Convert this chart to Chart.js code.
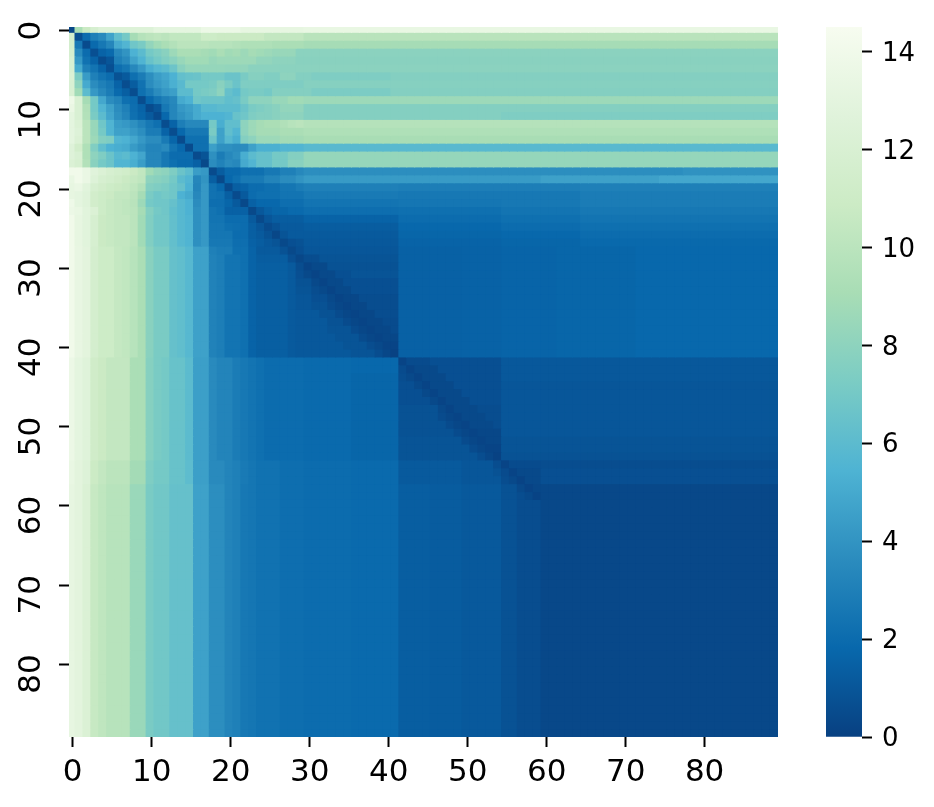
<!DOCTYPE html>
<html>
<head>
<meta charset="utf-8">
<script src="https://cdn.jsdelivr.net/npm/chart.js@4"></script>
<style>
body { margin: 0; background: #fff; }
canvas { position: absolute; left: 0; top: 0; }
</style>
</head>
<body>
<canvas id="heat" width="934" height="807"></canvas>
<canvas id="bar" width="934" height="807"></canvas>
<script>
// tick labels
var xTicks = [0, 10, 20, 30, 40, 50, 60, 70, 80];
var yTicks = [0, 10, 20, 30, 40, 50, 60, 70, 80];
var barTicks = [0, 2, 4, 6, 8, 10, 12, 14];
var vMax = 14.5;
// GnBu reversed
var ramp = ['#084081', '#0868ac', '#2b8cbe', '#4eb3d3', '#7bccc4', '#a8ddb5', '#ccebc5', '#e0f3db', '#f7fcf0'];

// left parts of the rows below the bright band, read as [first column, value, ...]
var left24 = [0,14, 1,13.2, 2,12.8, 3,11.8, 4,10.8, 5,10.6, 6,10.4, 8,10, 9,8.8, 10,7.5, 11,6.9, 13,6.3, 14,5.8, 15,5.5, 16,3.8, 17,4.2];
var left30 = [0,14, 1,13.3, 2,12.9, 3,11.6, 4,11, 6,10.5, 7,10.3, 8,9.8, 9,9.2, 10,7.8, 11,7.2, 13,6.4, 14,6.2, 15,5.8, 16,4.6];
var mid30 = [18,3.1, 19,2.9, 20,2.4, 22,2.2, 23,1.6, 24,1.4, 28,1.2];
var right30 = [42,1.5, 50,1.55, 55,1.65, 62,1.7, 72,1.8];
var left42 = [0,13.6, 1,13, 2,12.6, 3,11.2, 4,10.8, 5,10.4, 8,9.2, 10,7.7, 11,7.2, 12,7, 13,6.5, 15,6, 16,4.5, 18,3.5, 19,3.2, 21,2.8, 22,2.6, 23,2.4, 24,2.2, 25,2, 30,1.9];
var left55 = [0,13.4, 1,12.9, 2,12.4, 3,10.9, 4,10.4, 5,10, 8,8.9, 10,7.4, 11,7, 13,6.5, 15,6.1, 16,4.5, 18,3.5, 20,3.2, 21,3, 22,2.7, 23,2.5, 24,2.3, 27,2.1, 30,2];
var left60 = [0,13.2, 1,12.9, 2,12.2, 3,10.6, 4,10.2, 5,9.8, 8,8.5, 10,7.2, 11,6.9, 13,6.4, 16,4.6, 18,3.7, 20,3.2, 21,3, 22,2.6, 23,2.5, 24,2.3, 27,2.1, 30,2, 36,1.9];
var farBottom = [42,1.35, 46,1.25, 50,1.15, 55,0.8, 57,0.6, 60,0.35];

// one row of the heatmap per entry, written as [first column, value, ...]
var row00 = [0,0.3, 1,9.2, 2,10.8, 3,11.8, 4,12.4, 11,13, 17,13.6, 22,13.2, 30,13.4];
var row01 = [0,11.5, 1,0.7, 2,2, 3,3, 4,3.5, 5,4.7, 6,6.2, 7,7, 8,9, 9,9.7, 10,10, 11,10.2, 12,10, 13,10.3, 17,11, 19,10.8, 25,10.4, 30,9.9];
var row02 = [0,11.5, 1,2.6, 2,0.5, 3,1.9, 4,2.6, 5,3.3, 6,5, 7,5.6, 8,6.8, 9,7.2, 10,8.2, 11,8.8, 12,9.2, 13,9.6, 14,10, 18,9.8, 21,9.6, 22,9.4, 26,9.2, 30,9];
var row03 = [0,11.7, 1,3.5, 2,2, 3,0.7, 4,1.6, 5,1.9, 6,3.4, 7,4, 8,5.4, 9,6, 10,7, 11,7.4, 12,7.8, 13,8.6, 14,9.2, 17,9, 18,8.8, 19,9.2, 20,8.8, 21,9, 22,8.6, 23,9, 24,8.8, 25,8.6, 26,8.4, 29,7.9];
var row04 = [0,12, 1,4.2, 2,2.3, 3,1.6, 4,0.5, 5,1, 6,3, 7,3.5, 8,4.7, 9,5.5, 10,6.5, 11,7, 12,7.5, 13,7.9, 14,8.4, 15,8.8, 18,8.4, 19,8.6, 24,8.2, 26,8, 29,7.8];
var row05 = [0,12, 1,5, 2,3, 3,2.4, 4,1.6, 5,0.7, 6,2.1, 7,2.5, 8,3.4, 9,4.2, 10,5.2, 11,5.7, 12,6, 13,6.7, 14,7.8, 15,8.3, 20,8.2, 23,7.9];
var row06 = [0,12.2, 1,7.3, 2,4.3, 3,3, 4,2.4, 5,2, 6,0.8, 7,1.2, 8,2.2, 9,2.8, 10,3.7, 11,4.4, 12,4.8, 13,5.4, 14,6.3, 15,6.5, 16,6.6, 17,7, 20,6.6, 22,7.2, 23,7.7, 25,7.5, 27,8, 29,7.6, 31,7.4, 41,7.6];
var row07 = [0,12, 1,8, 2,5, 3,3.6, 4,3, 5,2.6, 6,1.6, 7,0.6, 8,1.3, 9,2.3, 10,3.6, 11,4.2, 12,4.6, 13,5.3, 14,5.9, 15,7, 18,7.2, 19,7.8, 20,7.2, 21,6.6, 22,7.4, 30,7.7];
var row08 = [0,12, 1,8.8, 2,6, 3,4.2, 4,3.4, 5,2.8, 6,1.9, 7,1.4, 8,0.6, 9,2.2, 10,2.8, 11,3.6, 12,4.2, 13,4.5, 14,6, 16,7, 17,7.2, 18,7.4, 19,8, 20,6.4, 21,6, 22,7, 23,7.2, 25,7, 26,7.6, 31,7.3, 41,7.6];
var row09 = [0,13.8, 1,12, 2,9, 3,7, 4,4.9, 5,3.6, 6,3.2, 7,2.2, 8,2, 9,0.6, 10,1.8, 11,2.5, 12,3, 13,3.4, 14,5, 15,5.4, 16,6.8, 17,6.6, 20,6.2, 21,6.4, 22,7.2, 23,8, 26,8.4, 28,8.8, 30,8.6];
var row10 = [0,13.5, 1,12, 2,9.5, 3,7, 4,5.6, 5,4.6, 6,3.6, 7,3, 8,2.1, 9,1.6, 10,0.5, 11,1, 12,2.6, 13,3.3, 14,4.2, 15,4.5, 16,5, 17,5.8, 19,6, 22,6.6, 23,7.2, 24,7.4, 25,7.6, 26,7.8, 27,8.2, 30,7.6];
var row11 = [0,13, 1,12, 2,9.6, 3,7.2, 4,6, 5,4.8, 6,3.8, 7,3.2, 8,2.2, 9,1.7, 10,1.2, 11,0.5, 12,1.8, 13,3.3, 14,3.9, 15,4.3, 16,5, 17,5.4, 20,5.6, 21,6.5, 22,6.8, 23,7.4, 24,7.6, 26,7.8, 27,8, 30,7.6, 55,7.4];
var row12 = [0,13, 1,12.2, 2,10, 3,8.4, 4,6.8, 5,5.5, 6,4.4, 7,4.2, 8,3.8, 9,3.2, 10,2.6, 11,2.2, 12,0.6, 13,1.6, 14,2.9, 15,3.4, 18,7, 19,5.2, 20,6.2, 22,8, 23,8.6, 24,9, 25,9.2, 27,9.5, 28,9.8, 29,10, 30,9.7];
var row13 = [0,13, 1,12.4, 2,10, 3,8.4, 4,7, 5,5.5, 6,4.6, 8,4.2, 9,3.7, 10,2.8, 12,1.6, 13,0.6, 14,1.8, 15,2.6, 18,7.2, 19,4.6, 20,6.2, 21,5.6, 22,8, 23,8.6, 24,9, 27,9.2, 30,9.4];
var row14 = [0,13, 1,12.2, 2,10, 3,8.6, 4,7.6, 5,7.4, 6,5.6, 7,5.4, 8,4.9, 9,4.2, 10,3.6, 12,2.7, 13,1.7, 14,0.5, 15,2.2, 18,6.6, 19,4.6, 20,5.8, 21,5.2, 22,7.6, 23,8, 24,8.6, 27,8.9, 30,9.1];
var row15 = [0,12.5, 1,11.4, 2,9.4, 3,7.5, 4,6.2, 5,5.4, 6,5.2, 7,5, 8,4.3, 9,3.8, 10,3.2, 12,3.5, 13,2.4, 14,1.8, 15,0.5, 16,2.2, 18,4.5, 19,3.8, 21,3.6, 23,4.6, 24,5.3, 27,5.6, 30,5.9];
var row16 = [0,12.5, 1,12, 2,9.4, 3,8, 4,7.4, 5,6.6, 6,5.8, 7,6, 8,5.4, 9,4.8, 10,3.3, 12,2.6, 13,2, 15,2, 16,0.5, 17,0.9, 18,3.8, 19,2.8, 20,3.4, 21,3.8, 22,5.2, 23,6, 24,6.4, 26,7, 28,7.6, 30,8.3];
var row17 = [0,12.2, 1,11.8, 2,9.6, 3,7.8, 4,7, 5,6.6, 6,5.6, 8,5.2, 9,4.4, 10,3.3, 12,2.6, 13,2.2, 14,1.9, 16,1.5, 17,0.4, 18,3.6, 19,3.1, 20,3.6, 21,3.4, 22,5, 23,5.6, 24,6.4, 26,7, 28,7.8, 30,8.3];
var row18 = [0,14, 2,13.5, 3,12.7, 4,12.2, 5,11.8, 6,11.5, 7,11.3, 8,10.8, 9,10.3, 10,8.8, 11,8.2, 12,8, 13,7.4, 14,6.6, 15,6.1, 16,4.4, 17,4.2, 18,0.5, 19,1.3, 20,1.9, 22,2.2, 25,2.6, 27,3, 29,3.4, 30,3.7, 78,3.9];
var row19 = [0,13.4, 1,14, 2,13.5, 3,12.4, 4,11.8, 5,11.5, 6,11.2, 7,10.8, 8,10.5, 9,10.2, 10,8, 11,7.8, 12,7.6, 13,7, 14,6, 15,5.6, 16,3.3, 17,4, 18,1.4, 19,0.4, 20,1.8, 21,2.2, 22,2.7, 25,3.2, 27,3.6, 29,4, 30,4.3, 60,4.6, 75,4.9];
var row20 = [0,13.2, 1,13.5, 2,12.8, 3,11.8, 4,11.4, 5,11, 6,10.8, 7,10.6, 8,10.2, 9,9.6, 10,7.6, 11,7.4, 12,7.2, 13,6.8, 14,6.4, 15,5.4, 16,3.2, 17,4.2, 18,2.3, 19,1.8, 20,0.5, 21,1.4, 22,1.6, 23,2, 25,2.2, 27,2.5, 29,2.8, 30,3, 42,2.9, 65,3];
var row21 = [0,13.2, 1,13, 2,12.6, 3,11.4, 4,11, 5,10.8, 6,10.4, 8,10, 9,9, 10,7.2, 11,6.8, 12,7, 13,6.8, 14,5.4, 15,5, 16,3.4, 17,4.2, 18,2.3, 19,2.2, 20,1.4, 21,0.5, 22,1.2, 23,2, 24,2.2, 27,2.4, 30,2.7, 42,2.6, 65,2.8];
var row22 = [0,13.8, 1,13, 2,12.6, 3,11.4, 4,11, 5,10.6, 6,10.4, 7,10.2, 8,9.9, 9,8.6, 10,7, 11,6.8, 13,6.4, 14,5.8, 15,5.4, 16,3.6, 17,4.2, 18,2.1, 20,1.7, 21,1.2, 22,0.4, 23,1.5, 24,1.8, 27,2.1, 30,2.4, 42,2.5, 55,2.6, 65,2.8];
var row23 = [0,13.6, 1,13.4, 2,12.8, 3,12.2, 4,11, 5,10.6, 6,10.4, 7,10.2, 8,10, 9,9, 10,7.6, 11,7, 12,6.8, 13,6.2, 14,5.8, 15,5.4, 16,3.8, 17,4.2, 18,2.4, 19,2.2, 20,1.5, 23,0.4, 24,1.1, 25,1.5, 26,1.7, 28,1.9, 30,2.1, 42,2.2, 55,2.4, 65,2.6];
var row24 = left24.concat([18,2.4, 20,2, 23,1.2, 24,0.4, 25,1, 26,1.3, 30,1.6, 42,2, 55,2.2, 65,2.4]);
var row25 = left24.concat([18,2.5, 20,2.2, 21,2.1, 22,2, 23,1.4, 24,1, 25,0.5, 26,0.8, 27,1.2, 30,1.3, 42,1.8, 55,2, 65,2.2]);
var row26 = left24.concat([18,2.5, 21,2, 23,1.4, 24,1.2, 25,0.8, 26,0.3, 27,0.9, 28,1.2, 42,1.7, 55,1.8, 65,2]);
var row27 = left24.concat([18,2.6, 21,2.1, 23,1.5, 24,1.3, 25,1.1, 26,0.9, 27,0.4, 28,0.7, 29,0.8, 30,1.1, 42,1.6, 55,1.7, 65,1.85]);
var row28 = left30.concat([18,3, 19,2.8, 21,2.2, 23,1.6, 24,1.2, 27,0.8, 28,0.4, 29,0.7, 30,1], right30);
var row29 = left30.concat([18,3.1, 19,2.9, 20,2.4, 22,2.2, 23,1.6, 24,1.3, 28,0.7, 29,0.3, 30,0.6, 32,0.9], right30);
var row30 = left30.concat(mid30, [29,0.6, 30,0.2, 31,0.4, 33,0.8], right30);
var row31 = left30.concat(mid30, [29,0.7, 30,0.4, 31,0.2, 32,0.4, 34,0.7, 36,0.9], right30);
var row32 = left30.concat(mid30, [29,0.8, 31,0.4, 32,0.2, 33,0.4, 35,0.7], right30);
var row33 = left30.concat(mid30, [29,0.9, 31,0.6, 32,0.4, 33,0.2, 34,0.4, 36,0.7], right30);
var row34 = left30.concat(mid30, [29,1, 31,0.7, 33,0.4, 34,0.2, 35,0.3, 37,0.6], right30);
var row35 = left30.concat(mid30, [29,1, 31,0.8, 33,0.5, 34,0.3, 35,0.2, 36,0.3, 38,0.6], right30);
var row36 = left30.concat(mid30, [29,1.1, 32,0.8, 34,0.5, 35,0.3, 36,0.2, 37,0.3, 39,0.6], right30);
var row37 = left30.concat(mid30, [29,1.1, 33,0.8, 35,0.5, 36,0.3, 37,0.2, 38,0.3, 40,0.5], right30);
var row38 = left30.concat(mid30, [29,1.1, 33,0.9, 36,0.5, 37,0.3, 38,0.2, 39,0.3, 41,0.5], right30);
var row39 = left30.concat(mid30, [29,1.1, 34,0.9, 37,0.5, 38,0.3, 39,0.2, 40,0.3], right30);
var row40 = left30.concat(mid30, [29,1.1, 35,0.9, 38,0.6, 39,0.4, 40,0.2, 41,0.2], right30);
var row41 = left30.concat(mid30, [29,1.1, 36,0.9, 39,0.6, 40,0.3, 41,0.1], right30);
var row42 = left42.concat([36,1.8, 42,0.2, 43,0.5, 46,0.7, 55,1.1]);
var row43 = left42.concat([36,1.8, 42,0.5, 43,0.2, 44,0.4, 47,0.7, 55,1.1]);
var row44 = left42.concat([36,1.7, 42,0.6, 43,0.4, 44,0.2, 45,0.4, 48,0.7, 55,1.1]);
var row45 = left42.concat([36,1.7, 42,0.7, 44,0.4, 45,0.2, 46,0.4, 49,0.7, 55,1]);
var row46 = left42.concat([36,1.7, 42,0.7, 45,0.4, 46,0.2, 47,0.4, 50,0.7, 55,1]);
var row47 = left42.concat([36,1.7, 42,0.7, 46,0.4, 47,0.2, 48,0.4, 51,0.7, 55,1]);
var row48 = left42.concat([36,1.7, 42,0.8, 47,0.4, 48,0.2, 49,0.4, 52,0.6, 55,1]);
var row49 = left42.concat([36,1.7, 42,0.8, 47,0.5, 48,0.3, 49,0.2, 50,0.4, 53,0.6, 55,1]);
var row50 = left42.concat([36,1.7, 42,0.8, 48,0.5, 49,0.3, 50,0.2, 51,0.4, 54,0.6, 55,1]);
var row51 = left42.concat([36,1.7, 42,0.8, 49,0.5, 50,0.3, 51,0.2, 52,0.3, 55,1]);
var row52 = left42.concat([36,1.7, 42,0.9, 50,0.5, 51,0.3, 52,0.2, 53,0.3, 55,0.9]);
var row53 = left42.concat([36,1.7, 42,0.9, 51,0.5, 52,0.3, 53,0.2, 54,0.2, 55,0.9]);
var row54 = left42.concat([36,1.7, 42,0.9, 52,0.6, 53,0.3, 54,0.1, 55,0.8]);
var row55 = left55.concat([36,1.9, 42,1.2, 50,1, 54,0.6, 55,0.2, 56,0.5, 60,0.6]);
var row56 = left55.concat([36,1.9, 42,1.2, 50,1, 54,0.8, 55,0.5, 56,0.2, 57,0.4, 60,0.7]);
var row57 = left55.concat([36,1.9, 42,1.2, 50,1, 55,0.6, 56,0.4, 57,0.15, 58,0.4, 60,0.7]);
var row58 = left60.concat([42,1.35, 46,1.25, 50,1.15, 55,0.8, 57,0.4, 58,0.15, 59,0.3, 60,0.35]);
var row59 = left60.concat([42,1.35, 46,1.25, 50,1.15, 55,0.8, 57,0.6, 58,0.4, 59,0.15, 60,0.35]);
var rowBottom = left60.concat(farBottom);

var rowRuns = [
  row00, row01, row02, row03, row04, row05, row06, row07, row08, row09,
  row10, row11, row12, row13, row14, row15, row16, row17, row18, row19,
  row20, row21, row22, row23, row24, row25, row26, row27, row28, row29,
  row30, row31, row32, row33, row34, row35, row36, row37, row38, row39,
  row40, row41, row42, row43, row44, row45, row46, row47, row48, row49,
  row50, row51, row52, row53, row54, row55, row56, row57, row58, row59,
  rowBottom, rowBottom, rowBottom, rowBottom, rowBottom, rowBottom, rowBottom, rowBottom, rowBottom, rowBottom,
  rowBottom, rowBottom, rowBottom, rowBottom, rowBottom, rowBottom, rowBottom, rowBottom, rowBottom, rowBottom,
  rowBottom, rowBottom, rowBottom, rowBottom, rowBottom, rowBottom, rowBottom, rowBottom, rowBottom, rowBottom
];

function hexToRgb(h) {
  return [parseInt(h.substr(1, 2), 16), parseInt(h.substr(3, 2), 16), parseInt(h.substr(5, 2), 16)];
}
function colorFor(v) {
  var t = Math.min(Math.max(v / vMax, 0), 1) * (ramp.length - 1);
  var i = Math.min(Math.floor(t), ramp.length - 2);
  var a = hexToRgb(ramp[i]), b = hexToRgb(ramp[i + 1]), f = t - i;
  return 'rgb(' + Math.round(a[0] + (b[0] - a[0]) * f) + ',' + Math.round(a[1] + (b[1] - a[1]) * f) + ',' + Math.round(a[2] + (b[2] - a[2]) * f) + ')';
}
function expandRow(runs) {
  var out = [];
  for (var i = 0; i < runs.length; i += 2) {
    var end = i + 2 < runs.length ? runs[i + 2] : 90;
    for (var c = runs[i]; c < end; c++) out[c] = runs[i + 1];
  }
  return out;
}

var datasets = rowRuns.map(function (runs, r) {
  var vals = expandRow(runs);
  return {
    data: vals.map(function (v, c) { return { x: c, y: [r, r + 1] }; }),
    backgroundColor: vals.map(colorFor),
    borderWidth: 0,
    inflateAmount: 0.5,
    grouped: false,
    barPercentage: 1,
    categoryPercentage: 1,
    clip: 0
  };
});

var tickFont = { family: 'DejaVu Sans', size: 31 };

new Chart(document.getElementById('heat'), {
  type: 'bar',
  data: { datasets: datasets },
  options: {
    responsive: false,
    animation: false,
    events: [],
    layout: { padding: { left: 0, right: 156, top: 27, bottom: 0 } },
    plugins: { legend: { display: false }, tooltip: { enabled: false } },
    scales: {
      x: {
        type: 'linear',
        offset: false,
        min: -0.26,
        max: 89.5,
        border: { display: false },
        grid: { offset: false, drawOnChartArea: false, tickLength: 10, tickWidth: 2, tickColor: '#000' },
        afterBuildTicks: function (s) { s.ticks = xTicks.map(function (t) { return { value: t + 0.21 }; }); },
        afterFit: function (s) { s.height = 70; s.paddingLeft = 0; s.paddingRight = 0; },
        ticks: {
          color: '#000', font: tickFont, padding: 7, maxRotation: 0, autoSkip: false,
          callback: function (v) { return String(Math.floor(v)); }
        }
      },
      y: {
        type: 'linear',
        reverse: true,
        min: 0.33,
        max: 90,
        border: { display: false },
        grid: { drawOnChartArea: false, tickLength: 10, tickWidth: 2, tickColor: '#000' },
        afterBuildTicks: function (s) { s.ticks = yTicks.map(function (t) { return { value: t + 0.81 }; }); },
        afterFit: function (s) { s.width = 69; s.paddingTop = 0; s.paddingBottom = 0; },
        ticks: {
          color: '#000', font: tickFont, padding: 27, minRotation: 90, maxRotation: 90, labelOffset: -10, autoSkip: false,
          callback: function (v) { return String(Math.floor(v)); }
        }
      }
    }
  }
});

new Chart(document.getElementById('bar'), {
  type: 'bar',
  data: {
    labels: ['v'],
    datasets: [{
      data: [[0, vMax]],
      borderWidth: 0,
      barPercentage: 1,
      categoryPercentage: 1,
      backgroundColor: function (ctx) {
        var area = ctx.chart.chartArea;
        if (!area) return ramp[0];
        var g = ctx.chart.ctx.createLinearGradient(0, area.bottom, 0, area.top);
        ramp.forEach(function (c, i) { g.addColorStop(i / (ramp.length - 1), c); });
        return g;
      }
    }]
  },
  options: {
    responsive: false,
    animation: false,
    events: [],
    layout: { padding: { left: 826, right: 0, top: 27, bottom: 70 } },
    plugins: { legend: { display: false }, tooltip: { enabled: false } },
    scales: {
      x: { display: false },
      y: {
        position: 'right',
        min: 0,
        max: vMax,
        border: { display: false },
        grid: { drawOnChartArea: false, tickLength: 10, tickWidth: 2, tickColor: '#000' },
        afterBuildTicks: function (s) { s.ticks = barTicks.map(function (t) { return { value: t }; }); },
        afterFit: function (s) { s.width = 72; },
        ticks: { color: '#000', font: { family: 'DejaVu Sans', size: 26 }, padding: 10, labelOffset: 2.5 }
      }
    }
  }
});
</script>
</body>
</html>
